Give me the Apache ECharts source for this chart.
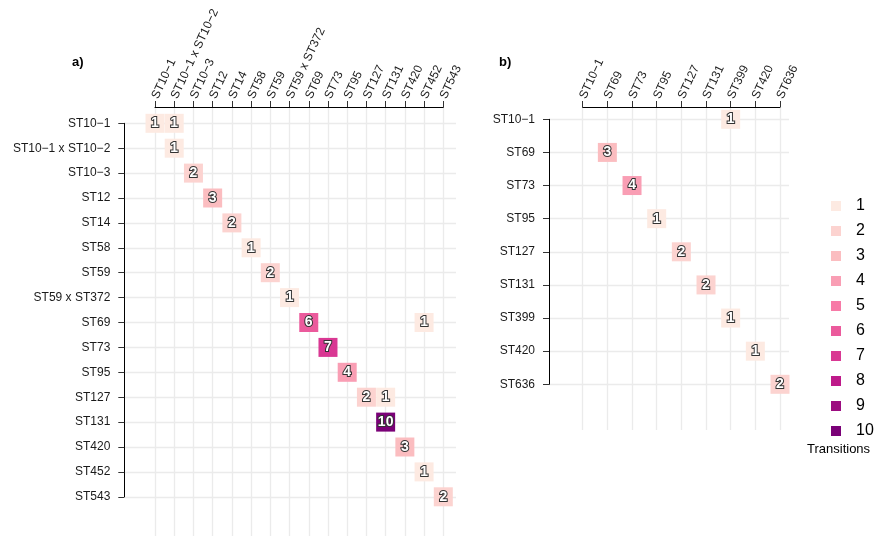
<!DOCTYPE html>
<html>
<head>
<meta charset="utf-8">
<script src="https://cdn.jsdelivr.net/npm/echarts@6/dist/echarts.min.js"></script>
<style>
  html, body { margin: 0; padding: 0; background: #fff; }
  #chart { width: 876px; height: 536px; }
</style>
</head>
<body>
<div id="chart"></div>
<script>
// panel a) categories
const aTypes = ['ST10−1', 'ST10−1 x ST10−2', 'ST10−3', 'ST12', 'ST14', 'ST58', 'ST59',
  'ST59 x ST372', 'ST69', 'ST73', 'ST95', 'ST127', 'ST131', 'ST420', 'ST452', 'ST543']
// panel a) cells: from (row) -> to (column), number of transitions
const aFrom = ['ST10−1', 'ST10−1', 'ST10−1 x ST10−2', 'ST10−3', 'ST12', 'ST14', 'ST58', 'ST59',
  'ST59 x ST372', 'ST69', 'ST69', 'ST73', 'ST95', 'ST127', 'ST127', 'ST131', 'ST420', 'ST452', 'ST543']
const aTo = ['ST10−1', 'ST10−1 x ST10−2', 'ST10−1 x ST10−2', 'ST10−3', 'ST12', 'ST14', 'ST58', 'ST59',
  'ST59 x ST372', 'ST69', 'ST452', 'ST73', 'ST95', 'ST127', 'ST131', 'ST131', 'ST420', 'ST452', 'ST543']
const aCount = [1, 1, 1, 2, 3, 2, 1, 2, 1, 6, 1, 7, 4, 2, 1, 10, 3, 1, 2]

// panel b)
const bTypes = ['ST10−1', 'ST69', 'ST73', 'ST95', 'ST127', 'ST131', 'ST399', 'ST420', 'ST636']
const bFrom = ['ST10−1', 'ST69', 'ST73', 'ST95', 'ST127', 'ST131', 'ST399', 'ST420', 'ST636']
const bTo = ['ST399', 'ST69', 'ST73', 'ST95', 'ST127', 'ST131', 'ST399', 'ST420', 'ST636']
const bCount = [1, 3, 4, 1, 2, 2, 1, 1, 2]

// legend
const levels = [1, 2, 3, 4, 5, 6, 7, 8, 9, 10]
const levelColors = ['#fdeae2', '#fcd3d0', '#fbbdc0', '#f99eb4', '#f77aa7',
  '#eb5a9c', '#d93893', '#be1a8a', '#9c0c80', '#7a0177']

const font = 'Liberation Sans, Arial, Helvetica, sans-serif'
const gridColor = '#ebebeb'

const chart = echarts.init(document.getElementById('chart'))

function cells(from, to, count) {
  return from.map((f, i) => [to[i], f, count[i]])
}

function hidden(type) {
  return { type: type || 'value', show: false }
}

function catAxis(data, extra) {
  return Object.assign({
    type: 'category',
    data: data,
    boundaryGap: false,
    axisLine: { show: true, lineStyle: { color: '#000', width: 1 } },
    axisTick: { show: true, interval: 0, length: 6, lineStyle: { color: '#333' } },
    splitLine: { show: false }
  }, extra)
}

function gridAxis(data, extra) {
  return Object.assign({
    type: 'category',
    data: data,
    boundaryGap: false,
    axisLine: { show: false },
    axisTick: { show: false, interval: 0 },
    axisLabel: { show: false, interval: 0 },
    splitLine: { show: true, interval: 0, lineStyle: { color: gridColor, width: 1.3 } }
  }, extra)
}

const tileLabel = {
  show: true,
  position: 'inside',
  formatter: p => p.value[2],
  color: '#fff',
  fontSize: 14,
  fontWeight: 'bold',
  fontFamily: font,
  textBorderColor: '#333',
  textBorderWidth: 2
}

const topLabel = { color: '#1a1a1a', fontSize: 12, fontFamily: font, rotate: -65, margin: 9, interval: 0 }
const leftLabel = { color: '#1a1a1a', fontSize: 12, fontFamily: font, margin: 14, interval: 0 }
const panelTitle = { fontSize: 13, fontWeight: 'bold', fontFamily: font, color: '#000' }

const option = {
  animation: false,
  backgroundColor: '#fff',
  title: [
    { text: 'a)', left: 67, top: 51, textStyle: panelTitle },
    { text: 'b)', left: 494, top: 51, textStyle: panelTitle },
    { text: 'Transitions', left: 802, top: 438, textStyle: { fontSize: 13, fontWeight: 'normal', fontFamily: font, color: '#000' } }
  ],
  grid: [
    // 0: panel a tiles
    { left: 155, right: 432.7, top: 123.3, bottom: 39.2 },
    // 1: panel a horizontal grid lines
    { left: 125, right: 420, top: 123.3, bottom: 39.2 },
    // 2: panel a vertical grid lines
    { left: 155, right: 432.7, top: 107, bottom: 0 },
    // 3: panel b tiles
    { left: 582.7, right: 96, top: 119.3, bottom: 151.7 },
    // 4: panel b horizontal grid lines
    { left: 549, right: 87, top: 119.3, bottom: 151.7 },
    // 5: panel b vertical grid lines
    { left: 582.7, right: 96, top: 107, bottom: 106 }
  ],
  xAxis: [
    catAxis(aTypes, { gridIndex: 0, position: 'top', offset: 16.3, axisLabel: topLabel }),
    Object.assign(hidden(), { gridIndex: 1 }),
    gridAxis(aTypes, { gridIndex: 2 }),
    catAxis(bTypes, { gridIndex: 3, position: 'top', offset: 12.3, axisLabel: topLabel }),
    Object.assign(hidden(), { gridIndex: 4 }),
    gridAxis(bTypes, { gridIndex: 5 })
  ],
  yAxis: [
    catAxis(aTypes, { gridIndex: 0, inverse: true, offset: 30.7, axisLabel: leftLabel }),
    gridAxis(aTypes, { gridIndex: 1, inverse: true }),
    Object.assign(hidden(), { gridIndex: 2 }),
    catAxis(bTypes, { gridIndex: 3, inverse: true, offset: 33.7, axisLabel: leftLabel }),
    gridAxis(bTypes, { gridIndex: 4, inverse: true }),
    Object.assign(hidden(), { gridIndex: 5 })
  ],
  visualMap: {
    type: 'piecewise',
    seriesIndex: [0, 1],
    dimension: 2,
    orient: 'vertical',
    inverse: true,
    align: 'left',
    left: 816,
    top: 183,
    itemWidth: 10,
    itemHeight: 10,
    itemGap: 9,
    itemSymbol: 'rect',
    textGap: 15,
    selectedMode: false,
    hoverLink: false,
    textStyle: { fontSize: 16, fontFamily: font, color: '#000' },
    pieces: levels.map((v, i) => ({ value: v, label: String(v), color: levelColors[i] }))
  },
  series: [
    {
      type: 'scatter',
      xAxisIndex: 0,
      yAxisIndex: 0,
      symbol: 'rect',
      symbolSize: 19,
      clip: false,
      itemStyle: { opacity: 1 },
      label: tileLabel,
      data: cells(aFrom, aTo, aCount)
    },
    {
      type: 'scatter',
      xAxisIndex: 3,
      yAxisIndex: 3,
      symbol: 'rect',
      symbolSize: 19,
      clip: false,
      itemStyle: { opacity: 1 },
      label: tileLabel,
      data: cells(bFrom, bTo, bCount)
    }
  ]
}

chart.setOption(option)
</script>
</body>
</html>
